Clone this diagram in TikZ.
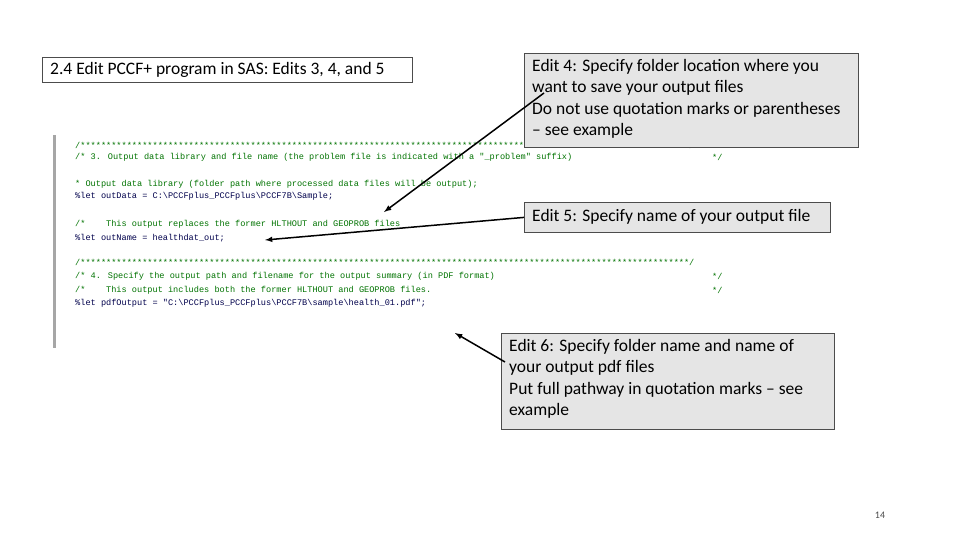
\documentclass[tikz,border=0pt]{standalone}
\usepackage{fontspec}
\setmainfont{Carlito}
\newfontfamily\codefont{Liberation Mono}
\begin{document}
\begin{tikzpicture}[x=1pt,y=-1pt,
  callout/.style={draw=black!70,fill=black!10,line width=0.8pt,anchor=north west,inner sep=0pt},
  ctext/.style={anchor=north west,align=left,font=\fontsize{17.5}{21.5}\selectfont,inner sep=0pt},
  codecm/.style={anchor=west,inner sep=0pt,font=\codefont\fontsize{8.6}{9}\selectfont,text=green!45!black},
  codecd/.style={anchor=west,inner sep=0pt,font=\codefont\fontsize{8.6}{9}\selectfont,text=blue!30!black},
  arr/.style={-latex,line width=1.5pt}]
\useasboundingbox (0,0) rectangle (960,540);
\fill[white] (0,0) rectangle (960,540);
% title
\node[draw=black!70,line width=0.8pt,anchor=north west,minimum width=370,minimum height=25,inner sep=0pt] (title) at (42,57) {};
\node[anchor=west,inner sep=0pt,font=\fontsize{17.5}{19}\selectfont] (tt) at (50,69.5) {2.4 Edit PCCF+ program in SAS: Edits 3, 4, and 5};
% code panel
\fill[black!35] (53,135) rectangle (56,348);
\def\bs{\textbackslash}
\def\stars{**********************************************************************************************************************}
\node[codecm] (l1) at (75,145) {/\stars/};
\node[codecm] (l2) at (75,157) {/* 3. Output data library and file name (the problem file is indicated with a "\_problem" suffix)};
\node[codecm] (l2e) at (712,157) {*/};
\node[codecm] (l3) at (75,184) {* Output data library (folder path where processed data files will be output);};
\node[codecd] (l4) at (75,196) {\%let outData = C:\bs PCCFplus\_PCCFplus\bs PCCF7B\bs Sample;};
\node[codecm] (l5) at (75,224) {/*\ \ \ \ This output replaces the former HLTHOUT and GEOPROB files};
\node[codecd] (l6) at (75,238) {\%let outName = healthdat\_out;};
\node[codecm] (l7) at (75,262) {/\stars/};
\node[codecm] (l8) at (75,276) {/* 4. Specify the output path and filename for the output summary (in PDF format)};
\node[codecm] (l8e) at (712,276) {*/};
\node[codecm] (l9) at (75,290) {/*\ \ \ \ This output includes both the former HLTHOUT and GEOPROB files.};
\node[codecm] (l9e) at (712,290) {*/};
\node[codecd] (l10) at (75,303) {\%let pdfOutput = "C:\bs PCCFplus\_PCCFplus\bs PCCF7B\bs sample\bs health\_01.pdf";};
% targets
\coordinate (t4) at (384,212);
\coordinate (t5) at (265,240);
\coordinate (t6) at (455,333);
% callouts
\node[callout,minimum width=334,minimum height=94] (e4) at (524,53) {};
\node[ctext] (e4t) at (532,59) {Edit 4: Specify folder location where you\\want to save your output files\\Do not use quotation marks or parentheses\\– see example};
\node[callout,minimum width=306,minimum height=30] (e5) at (524,202) {};
\node[anchor=west,font=\fontsize{17.5}{19}\selectfont,inner sep=0pt] (e5t) at (532,217) {Edit 5: Specify name of your output file};
\node[callout,minimum width=333,minimum height=96] (e6) at (501,333) {};
\node[ctext] (e6t) at (509,339) {Edit 6: Specify folder name and name of\\your output pdf files\\Put full pathway in quotation marks – see\\example};
\draw[arr] (544,93) -- (t4);
\draw[arr] (e5.west) -- (t5);
\draw[arr] (505,362) -- (t6);
\node[font=\fontsize{10}{12}\selectfont,text=black!70] (pg) at (880,515) {14};
\end{tikzpicture}
\end{document}
